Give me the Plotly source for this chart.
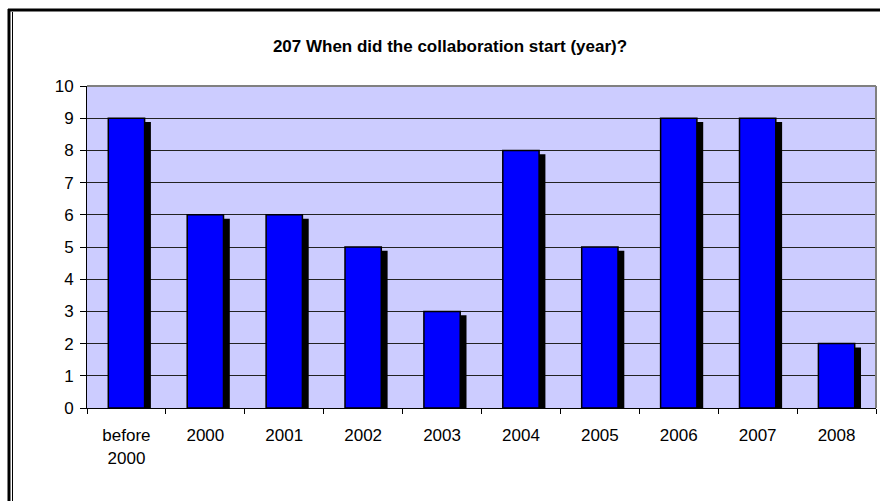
import plotly.graph_objects as go

categories = ["before 2000", "2000", "2001", "2002", "2003", "2004", "2005", "2006", "2007", "2008"]
tick_labels = ["before<br>2000", "2000", "2001", "2002", "2003", "2004", "2005", "2006", "2007", "2008"]
counts = [9, 6, 6, 5, 3, 8, 5, 9, 9, 2]
title_text = "207 When did the collaboration start (year)?"

W, H = 880, 501
L, R, T, B = 87, 4, 86, 93
pw, ph = W - L - R, H - T - B

bar_w = 0.46
shadow_dx = 0.08
shadow_dy = 0.12

fig = go.Figure()
fig.add_trace(go.Bar(
    x=categories, y=[v - shadow_dy for v in counts],
    width=bar_w, offset=-bar_w / 2 + shadow_dx,
    marker=dict(color="black", line=dict(width=0)),
    hoverinfo="skip", showlegend=False,
))
fig.add_trace(go.Bar(
    x=categories, y=counts,
    width=bar_w, offset=-bar_w / 2,
    marker=dict(color="#0000FF", line=dict(color="black", width=1.5)),
    showlegend=False,
))

def px(x):
    return (x - L) / pw

def py(y):
    return (H - B - y) / ph

shapes = [
    dict(type="line", xref="paper", yref="paper", x0=0, x1=1, y0=1, y1=1,
         line=dict(color="#808080", width=2)),
    dict(type="line", xref="paper", yref="paper", x0=1, x1=1, y0=0, y1=1,
         line=dict(color="#808080", width=2)),
    dict(type="line", xref="paper", yref="paper", x0=px(8), x1=px(882), y0=py(10), y1=py(10),
         line=dict(color="black", width=3)),
    dict(type="line", xref="paper", yref="paper", x0=px(9), x1=px(9), y0=py(9), y1=py(503),
         line=dict(color="black", width=3)),
    dict(type="line", xref="paper", yref="paper", x0=px(12.5), x1=px(12.5), y0=py(12), y1=py(503),
         line=dict(color="black", width=1)),
]

fig.update_layout(
    width=W, height=H,
    margin=dict(l=L, r=R, t=T, b=B),
    paper_bgcolor="white",
    plot_bgcolor="#CCCCFF",
    barmode="overlay",
    font=dict(family="Liberation Sans, Arial, sans-serif", color="black"),
    title=dict(text="<b>" + title_text + "</b>", x=450 / W, xref="container", xanchor="center",
               y=1 - 46 / H, yref="container", yanchor="middle",
               font=dict(size=17, color="black")),
    xaxis=dict(
        type="category", tickvals=categories, ticktext=tick_labels,
        tickson="boundaries", ticks="outside", ticklen=5, tickcolor="black",
        showline=True, linecolor="black", linewidth=1,
        showgrid=False, tickfont=dict(size=17), range=[-0.5, 9.5],
        ticklabelstandoff=12,
    ),
    yaxis=dict(
        range=[0, 10], dtick=1, ticks="outside", ticklen=6, tickcolor="black",
        showline=True, linecolor="black", linewidth=1,
        showgrid=True, gridcolor="#222222", gridwidth=1, zeroline=False,
        tickfont=dict(size=17), ticklabelstandoff=3,
    ),
    shapes=shapes,
)

fig.write_html("out.html", config={"displayModeBar": False},
               post_script="document.body.style.margin='0';")
